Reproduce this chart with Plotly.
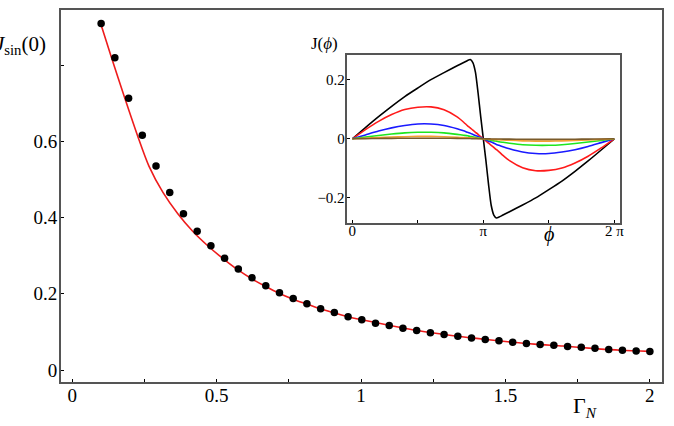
import plotly.graph_objects as go

# ---------------- main panel data ----------------
gamma_pts = [0.1000, 0.1475, 0.1950, 0.2425, 0.2900, 0.3375, 0.3850, 0.4325, 0.4800, 0.5275,
             0.5750, 0.6225, 0.6700, 0.7175, 0.7650, 0.8125, 0.8600, 0.9075, 0.9550, 1.0025,
             1.0500, 1.0975, 1.1450, 1.1925, 1.2400, 1.2875, 1.3350, 1.3825, 1.4300, 1.4775,
             1.5250, 1.5725, 1.6200, 1.6675, 1.7150, 1.7625, 1.8100, 1.8575, 1.9050, 1.9525, 2.0000]
jsin_pts = [0.909, 0.819, 0.713, 0.616, 0.535, 0.466, 0.410, 0.364, 0.326, 0.293,
            0.265, 0.242, 0.221, 0.203, 0.188, 0.174, 0.161, 0.151, 0.140, 0.132,
            0.123, 0.117, 0.110, 0.104, 0.098, 0.093, 0.089, 0.084, 0.080, 0.077,
            0.073, 0.070, 0.067, 0.065, 0.062, 0.060, 0.057, 0.054, 0.052, 0.050, 0.049]

gamma_fit = [0.100, 0.136, 0.182, 0.2255, 0.2655, 0.314, 0.3655, 0.417, 0.469, 0.521,
             0.575, 0.6225, 0.670, 0.7175, 0.765, 0.8125, 0.860, 0.9075, 0.955, 1.0025,
             1.100, 1.200, 1.300, 1.400, 1.500, 1.600, 1.700, 1.800, 1.900, 2.000]
jsin_fit = [0.905, 0.819, 0.713, 0.616, 0.535, 0.466, 0.410, 0.364, 0.326, 0.293,
            0.262, 0.239, 0.219, 0.201, 0.186, 0.173, 0.160, 0.150, 0.140, 0.132,
            0.117, 0.103, 0.092, 0.083, 0.075, 0.068, 0.063, 0.057, 0.052, 0.049]

x_tickvals = [0, 0.25, 0.5, 0.75, 1, 1.25, 1.5, 1.75, 2]
x_ticktext = ["0", " ", "0.5", " ", "1", " ", "1.5", " ", "2"]
y_tickvals = [0, 0.2, 0.4, 0.6, 0.8]
y_ticktext = ["0", "0.2", "0.4", "0.6", " "]

# ---------------- inset data (phi in units of pi) ----------------
phi = [0, 0.1, 0.2, 0.3, 0.4, 0.5, 0.6, 0.7, 0.8, 0.85, 0.88, 0.9, 0.92, 0.94, 0.96, 0.98, 1.0,
       1.02, 1.04, 1.06, 1.08, 1.1, 1.12, 1.15, 1.2, 1.3, 1.4, 1.5, 1.6, 1.7, 1.8, 1.9, 2.0]
j_black = [0, 0.038, 0.075, 0.110, 0.143, 0.172, 0.200, 0.224, 0.247, 0.258, 0.265, 0.268, 0.258,
           0.225, 0.155, 0.075, 0,
           -0.075, -0.155, -0.225, -0.258, -0.268, -0.265, -0.258, -0.247, -0.224, -0.200,
           -0.172, -0.143, -0.110, -0.075, -0.038, 0]
j_red = [0, 0.031, 0.059, 0.082, 0.099, 0.107, 0.108, 0.098, 0.074, 0.056, 0.044, 0.037, 0.029,
         0.022, 0.015, 0.007, 0,
         -0.007, -0.015, -0.022, -0.029, -0.037, -0.044, -0.056, -0.074, -0.098, -0.108,
         -0.107, -0.099, -0.082, -0.059, -0.031, 0]
j_blue = [0, 0.013, 0.026, 0.037, 0.045, 0.050, 0.050, 0.045, 0.034, 0.027, 0.022, 0.019, 0.015,
          0.011, 0.008, 0.004, 0,
          -0.004, -0.008, -0.011, -0.015, -0.019, -0.022, -0.027, -0.034, -0.045, -0.050,
          -0.050, -0.045, -0.037, -0.026, -0.013, 0]
j_green = [0, 0.006, 0.011, 0.016, 0.020, 0.022, 0.022, 0.020, 0.015, 0.012, 0.010, 0.008, 0.007,
           0.005, 0.003, 0.002, 0,
           -0.002, -0.003, -0.005, -0.007, -0.008, -0.010, -0.012, -0.015, -0.020, -0.022,
           -0.022, -0.020, -0.016, -0.011, -0.006, 0]
j_orange = [0, 0.002, 0.004, 0.006, 0.007, 0.008, 0.008, 0.007, 0.005, 0.004, 0.0035, 0.003, 0.0025,
            0.002, 0.0013, 0.0006, 0,
            -0.0006, -0.0013, -0.002, -0.0025, -0.003, -0.0035, -0.004, -0.005, -0.007, -0.008,
            -0.008, -0.007, -0.006, -0.004, -0.002, 0]
j_brown = [0, 0.0005, 0.001, 0.0015, 0.0018, 0.002, 0.002, 0.0018, 0.0013, 0.001, 0.0009, 0.0008,
           0.0006, 0.0005, 0.0003, 0.0002, 0,
           -0.0002, -0.0003, -0.0005, -0.0006, -0.0008, -0.0009, -0.001, -0.0013, -0.0018, -0.002,
           -0.002, -0.0018, -0.0015, -0.001, -0.0005, 0]

inset_series = [("black", j_black), ("#ff1a1a", j_red), ("#1a1aff", j_blue),
                ("#1ee61e", j_green), ("#f5a030", j_orange), ("#7a5a2a", j_brown)]

ix_tickvals = [0, 0.5, 1, 1.5, 2]
ix_ticktext = ["0", " ", "π", " ", "2 π"]
iy_tickvals = [-0.2, 0, 0.2]
iy_ticktext = ["−0.2", "0", "0.2"]

SERIF = "Liberation Serif, Times New Roman, Times, serif"

fig = go.Figure()

fig.add_trace(go.Scatter(x=gamma_fit, y=jsin_fit, mode="lines",
                         line=dict(color="#ee1c1c", width=1.6, shape="spline", smoothing=0.8),
                         xaxis="x", yaxis="y", showlegend=False, hoverinfo="skip"))
fig.add_trace(go.Scatter(x=gamma_pts, y=jsin_pts, mode="markers",
                         marker=dict(color="black", size=7.5),
                         xaxis="x", yaxis="y", showlegend=False))

for col, vals in inset_series:
    fig.add_trace(go.Scatter(x=phi, y=vals, mode="lines",
                             line=dict(color=col, width=1.6, shape="spline", smoothing=0.6),
                             xaxis="x2", yaxis="y2", showlegend=False, hoverinfo="skip"))

frame_col = "#555555"
fig.update_layout(
    width=674, height=426,
    margin=dict(l=61, r=10, t=8, b=44),
    paper_bgcolor="white", plot_bgcolor="white",
    font=dict(family=SERIF, color="black", size=19),
    xaxis=dict(domain=[0, 1], range=[-0.039, 2.042], tickvals=x_tickvals, ticktext=x_ticktext,
               ticks="inside", ticklen=3, tickwidth=1, tickcolor="black",
               showline=True, mirror=True, linecolor=frame_col, linewidth=2,
               showgrid=False, zeroline=False, tickfont=dict(family=SERIF, size=19),
               ticklabelstandoff=-5),
    yaxis=dict(domain=[0, 1], range=[-0.0313, 0.9444], tickvals=y_tickvals, ticktext=y_ticktext,
               ticks="inside", ticklen=3, tickwidth=1, tickcolor="black",
               showline=True, mirror=True, linecolor=frame_col, linewidth=2,
               showgrid=False, zeroline=False, tickfont=dict(family=SERIF, size=19),
               ticklabelstandoff=-2),
    xaxis2=dict(domain=[0.4765, 0.930], anchor="y2", range=[-0.038, 2.043],
                tickvals=ix_tickvals, ticktext=ix_ticktext,
                ticks="inside", ticklen=3, tickwidth=1, tickcolor="black",
                showline=True, mirror=True, linecolor=frame_col, linewidth=1.5,
                showgrid=False, zeroline=False, tickfont=dict(family=SERIF, size=15),
                ticklabelstandoff=-6),
    yaxis2=dict(domain=[0.4286, 0.879], anchor="x2", range=[-0.2835, 0.2835],
                tickvals=iy_tickvals, ticktext=iy_ticktext,
                ticks="inside", ticklen=3, tickwidth=1, tickcolor="black",
                showline=True, mirror=True, linecolor=frame_col, linewidth=1.5,
                showgrid=False, zeroline=False, tickfont=dict(family=SERIF, size=15),
                ticklabelstandoff=-2),
)

fig.add_annotation(text="<i>J</i><sub>sin</sub>(0)", xref="paper", yref="paper",
                   x=-0.021, y=0.906, xanchor="right", yanchor="middle", showarrow=False,
                   font=dict(family=SERIF, size=21, color="black"))
fig.add_annotation(text="Γ<sub><i>N</i></sub>", xref="x", yref="paper",
                   x=1.777, y=-0.066, xanchor="center", yanchor="middle", showarrow=False,
                   font=dict(family=SERIF, size=22, color="black"))
fig.add_annotation(text="J(<i>ϕ</i>)", xref="paper", yref="paper",
                   x=0.438, y=0.909, xanchor="center", yanchor="middle", showarrow=False,
                   font=dict(family=SERIF, size=17, color="black"))
fig.add_annotation(text="<i>ϕ</i>", xref="x2", yref="paper",
                   x=1.5, y=0.397, xanchor="center", yanchor="middle", showarrow=False,
                   font=dict(family=SERIF, size=20, color="black"))

fig.write_html("out.html")
